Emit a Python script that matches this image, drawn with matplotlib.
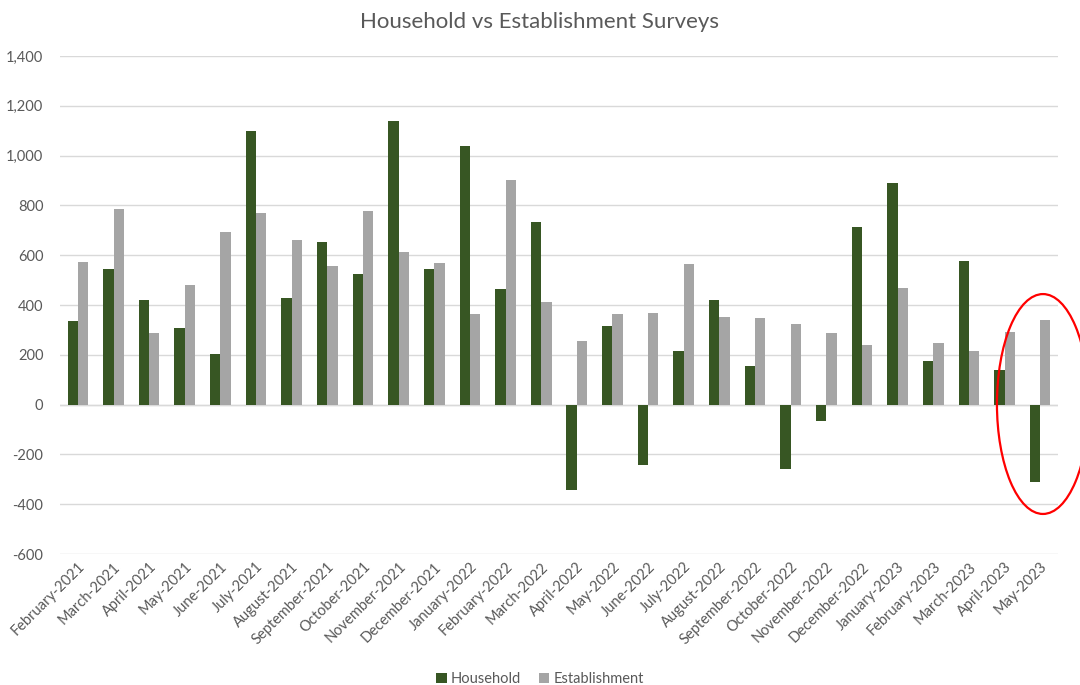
import matplotlib
matplotlib.use("Agg")
import matplotlib.pyplot as plt
import numpy as np
from matplotlib.patches import Ellipse
from matplotlib.ticker import FuncFormatter, MultipleLocator

months = ["February-2021", "March-2021", "April-2021", "May-2021", "June-2021", "July-2021",
          "August-2021", "September-2021", "October-2021", "November-2021", "December-2021",
          "January-2022", "February-2022", "March-2022", "April-2022", "May-2022", "June-2022",
          "July-2022", "August-2022", "September-2022", "October-2022", "November-2022",
          "December-2022", "January-2023", "February-2023", "March-2023", "April-2023", "May-2023"]
household = [334, 544, 419, 309, 202, 1097, 429, 653, 526, 1138, 544, 1039, 466, 735,
             -344, 317, -241, 214, 422, 156, -257, -64, 715, 892, 176, 576, 139, -309]
establishment = [574, 784, 287, 481, 692, 768, 661, 557, 779, 613, 568, 363, 903, 413,
                 254, 363, 367, 565, 351, 349, 323, 289, 239, 470, 246, 215, 293, 338]

plt.rcParams['font.family'] = ['Lato', 'DejaVu Sans']
text_color = "#595959"
green = "#375623"
gray = "#a5a5a5"

fig = plt.figure(figsize=(10.8, 6.85), dpi=100)
ax = fig.add_axes([0.0556, 0.1912, 0.924, 0.727])

x = np.arange(len(months))
w = 0.29
ax.bar(x - w / 2, household, width=w, color=green, label="Household", zorder=3)
ax.bar(x + w / 2, establishment, width=w, color=gray, label="Establishment", zorder=3)

ax.set_xlim(-0.5, len(months) - 0.5)
ax.set_ylim(-600, 1400)
ax.yaxis.set_major_locator(MultipleLocator(200))
ax.yaxis.set_major_formatter(FuncFormatter(lambda v, p: f"{int(v):,}"))
ax.grid(axis="y", color="#d9d9d9", linewidth=1, zorder=0)
ax.axhline(0, color="#d9d9d9", linewidth=1, zorder=2)
for s in ax.spines.values():
    s.set_visible(False)
ax.tick_params(axis="both", length=0, colors=text_color, labelsize=10.5)
ax.tick_params(axis="y", pad=12)
ax.set_xticks(x)
ax.set_xticklabels(months, rotation=45, ha="right", rotation_mode="anchor")
ax.tick_params(axis="x", pad=4)

fig.suptitle("Household vs Establishment Surveys", y=0.983, fontsize=16, color=text_color)

leg = fig.legend(loc="center", bbox_to_anchor=(0.5, 0.009), ncol=2, frameon=False,
                 fontsize=10.5, handlelength=0.7, handleheight=0.7, handletextpad=0.3,
                 columnspacing=1.2)
for t in leg.get_texts():
    t.set_color(text_color)

ell = Ellipse((0.9657, 0.4102), 0.0852, 0.321, transform=fig.transFigure,
              fill=False, edgecolor="#ff0000", linewidth=1.6, clip_on=False, zorder=10)
fig.add_artist(ell)

fig.savefig("out.png", dpi=100)
